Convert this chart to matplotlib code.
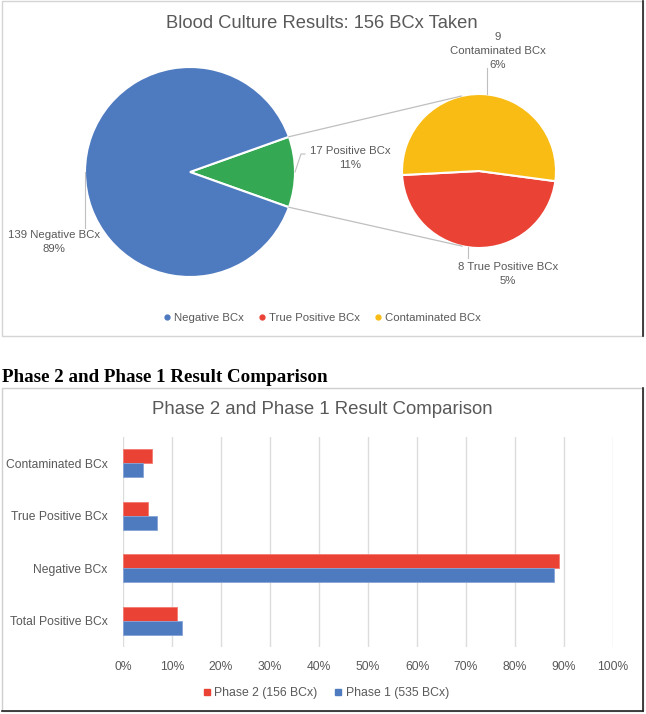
import numpy as np
import matplotlib
matplotlib.use("Agg")
import matplotlib.pyplot as plt
from matplotlib.patches import Rectangle
from matplotlib.lines import Line2D

plt.rcParams['font.family'] = ['Liberation Sans', 'DejaVu Sans']

# ---- data ----
pie_title = "Blood Culture Results: 156 BCx Taken"
main_labels = ["Positive BCx", "Negative BCx"]
main_counts = [17, 139]
sub_labels = ["True Positive BCx", "Contaminated BCx"]
sub_counts = [8, 9]

bar_title = "Phase 2 and Phase 1 Result Comparison"
categories = ["Contaminated BCx", "True Positive BCx", "Negative BCx", "Total Positive BCx"]
phase2 = [6, 5, 89, 11]
phase1 = [4, 7, 88, 12]
series_names = ["Phase 2 (156 BCx)", "Phase 1 (535 BCx)"]
xticks = list(range(0, 101, 10))

BLUE = "#4E7AC0"
GREEN = "#34A853"
RED = "#EA4335"
YELLOW = "#F9BC15"
GREY_TXT = "#595959"

W, H = 646, 714
fig = plt.figure(figsize=(W / 100, H / 100), dpi=100)

# background: frames + heading, in pixel coords
bg = fig.add_axes([0, 0, 1, 1], zorder=-1)
bg.set_xlim(0, W)
bg.set_ylim(H, 0)
bg.axis("off")
bg.add_patch(Rectangle((2, 1), 641, 335, fill=False, ec="#d4d4d4", lw=1))
bg.add_patch(Rectangle((2, 388), 641, 323, fill=False, ec="#cfcfcf", lw=1))
bg.plot([643, 643], [1, 336], color="#222222", lw=1.2)
bg.plot([643, 643], [388, 711], color="#222222", lw=1.2)
bg.plot([2, 643], [711, 711], color="#222222", lw=1.2)
bg.text(2, 382, "Phase 2 and Phase 1 Result Comparison", fontsize=13.7,
        fontweight="bold", family="Liberation Serif", va="baseline", ha="left")

# ---- pie of pie ----
PH = 340
ax = fig.add_axes([0, 1 - PH / H, 1, PH / H])
total = sum(main_counts)
pos_frac = main_counts[0] / total
big_c, big_r = (190, 168), 105
ax.pie(main_counts, colors=[GREEN, BLUE], startangle=-pos_frac * 180,
       center=big_c, radius=big_r, wedgeprops=dict(edgecolor="white", linewidth=1.5))

small_c, small_r = (479, 169), 77
ax.pie(sub_counts, colors=[RED, YELLOW], startangle=183,
       center=small_c, radius=small_r, wedgeprops=dict(edgecolor="white", linewidth=1.5))
ax.set_xlim(0, W)
ax.set_ylim(0, PH)
ax.set_aspect("equal")
ax.axis("off")


def pt(c, r, deg):
    a = np.deg2rad(deg)
    return c[0] + r * np.cos(a), c[1] + r * np.sin(a)


# connector lines: green wedge edges to tangents of the second pie
half = pos_frac * 180
for sgn in (1, -1):
    p = np.array(pt(big_c, big_r, sgn * half))
    d = p - np.array(small_c)
    dist = np.hypot(*d)
    base = np.degrees(np.arctan2(d[1], d[0]))
    off = np.degrees(np.arccos(small_r / dist))
    q = pt(small_c, small_r, base - sgn * off)
    ax.plot([p[0], q[0]], [p[1], q[1]], color="#bfbfbf", lw=0.9)

lbl = dict(fontsize=8.2, color=GREY_TXT, ha="center", va="center", linespacing=1.45)
neg_pct = round(main_counts[1] / total * 100)
pos_pct = round(main_counts[0] / total * 100)
tp_pct = round(sub_counts[0] / total * 100)
ct_pct = round(sub_counts[1] / total * 100)
LEAD = "#bfbfbf"

ax.text(54, 98, f"{main_counts[1]} Negative {main_labels[1].split()[1]}\n{neg_pct}%", **lbl)
x0, y0 = pt(big_c, big_r, 180)
ax.plot([x0, x0], [y0, 112], color=LEAD, lw=0.8)

ax.text(350, 182, f"{main_counts[0]} {main_labels[0]}\n{pos_pct}%", **lbl)
x0, y0 = pt(big_c, big_r, 0)
ax.plot([x0, 301, 305], [y0, 186, 186], color=LEAD, lw=0.8)

ax.text(498, 289, f"{sub_counts[1]}\n{sub_labels[1]}\n{ct_pct}%", **lbl)
x0, y0 = pt(small_c, small_r, 84)
ax.plot([x0, x0], [y0, 272], color=LEAD, lw=0.8)

ax.text(508, 66, f"{sub_counts[0]} {sub_labels[0]}\n{tp_pct}%", **lbl)
x0, y0 = pt(small_c, small_r, 262)
ax.plot([x0, x0], [y0, 82], color=LEAD, lw=0.8)

ax.text(322, PH - 23, pie_title, fontsize=13.2, color=GREY_TXT, ha="center", va="center")

handles = [Line2D([], [], marker="o", ls="", color=c, markersize=3.5)
           for c in (BLUE, RED, YELLOW)]
ax.legend(handles, ["Negative BCx", "True Positive BCx", "Contaminated BCx"],
          loc="center", bbox_to_anchor=(322, PH - 318), bbox_transform=ax.transData,
          ncol=3, frameon=False, fontsize=8.2, labelcolor=GREY_TXT,
          handletextpad=0.3, columnspacing=1.3, handlelength=0.6)

# ---- bar chart ----
bx = fig.add_axes([123 / W, 1 - 647 / H, (613 - 123) / W, 210 / H])
y = np.arange(len(categories))
bh = 0.27
bx.barh(y - bh / 2, phase2, height=bh, color=RED, edgecolor="#F27A70", lw=0.6,
        label=series_names[0])
bx.barh(y + bh / 2, phase1, height=bh, color=BLUE, edgecolor="#86A4D6", lw=0.6,
        label=series_names[1])
bx.set_xlim(0, 100)
bx.set_ylim(len(categories) - 0.5, -0.5)
bx.set_xticks(xticks)
bx.set_xticklabels([f"{t}%" for t in xticks])
bx.set_yticks(y)
bx.set_yticklabels(categories)
bx.tick_params(length=0, labelsize=8.7, labelcolor=GREY_TXT)
bx.tick_params(axis="x", pad=10)
bx.tick_params(axis="y", pad=11)
bx.grid(axis="x", color="#dcdcdc", lw=1)
bx.set_axisbelow(True)
for s in bx.spines.values():
    s.set_visible(False)

fig.text(322 / W, 1 - 409 / H, bar_title, fontsize=13.4, color=GREY_TXT, ha="center", va="center")
bh_handles = [Line2D([], [], marker="s", ls="", color=c, markersize=4.5) for c in (RED, BLUE)]
fig.legend(bh_handles, series_names, loc="center", bbox_to_anchor=(326 / W, 1 - 693 / H),
           ncol=2, frameon=False, fontsize=8.8, labelcolor=GREY_TXT,
           handletextpad=0.3, columnspacing=1.4, handlelength=0.6)

fig.savefig("out.png", dpi=100)
